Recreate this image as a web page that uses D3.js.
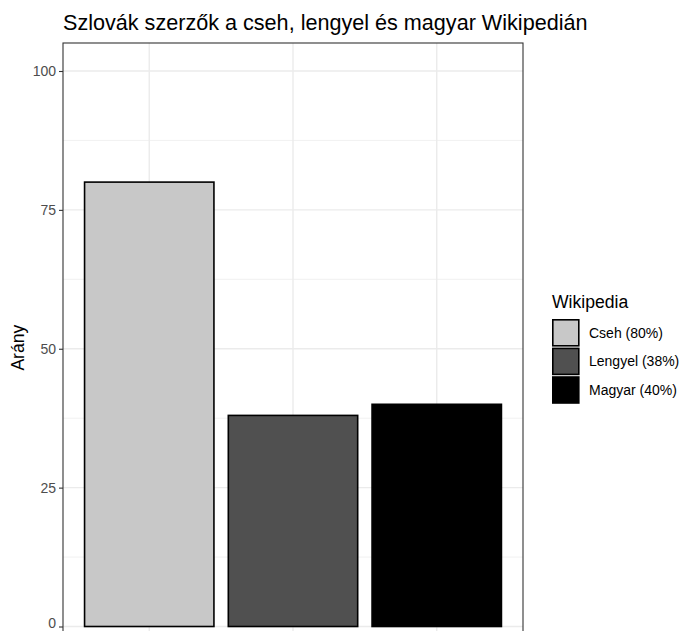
<!DOCTYPE html>
<html><head><meta charset="utf-8">
<script src="https://cdn.jsdelivr.net/npm/d3@7"></script>
<style>body{margin:0;background:#fff;} svg{display:block;font-family:"Liberation Sans",Arial,sans-serif;}</style>
</head><body>
<script>
const categories = ["Cseh", "Lengyel", "Magyar"];
const values = [80, 38, 40];
const legendLabels = ["Cseh (80%)", "Lengyel (38%)", "Magyar (40%)"];
const fills = ["#c8c8c8", "#505050", "#000000"];
const yTicks = [0, 25, 50, 75, 100];
const yMinor = [12.5, 37.5, 62.5, 87.5];

const W = 684, H = 631;
const svg = d3.select("body").append("svg").attr("width", W).attr("height", H);

const pL = 63, pR = 523, pT = 43;
const y = d3.scaleLinear().domain([0, 100]).range([626.5, 626.5 - 100 * 5.555]);
const pB = y(-5);
// discrete x like ggplot: categories at 1..3, limits 0.4..3.6
const xc = d3.scaleLinear().domain([0.4, 3.6]).range([pL, pR]);
const bw = (xc(1.9) - xc(1.0));

const g = svg.append("g");
g.append("rect").attr("x", pL).attr("y", pT).attr("width", pR - pL).attr("height", pB - pT).attr("fill", "#fff");
// minor grid
g.selectAll(".ymin").data(yMinor).enter().append("line")
  .attr("x1", pL).attr("x2", pR).attr("y1", d => y(d)).attr("y2", d => y(d))
  .attr("stroke", "#ebebeb").attr("stroke-width", 0.7);
// major grid
g.selectAll(".ymaj").data(yTicks).enter().append("line")
  .attr("x1", pL).attr("x2", pR).attr("y1", d => y(d)).attr("y2", d => y(d))
  .attr("stroke", "#ebebeb").attr("stroke-width", 1.4);
g.selectAll(".xmaj").data(categories).enter().append("line")
  .attr("x1", (d, i) => xc(i + 1)).attr("x2", (d, i) => xc(i + 1)).attr("y1", pT).attr("y2", pB)
  .attr("stroke", "#ebebeb").attr("stroke-width", 1.4);

// bars
g.selectAll(".bar").data(values).enter().append("rect")
  .attr("x", (d, i) => xc(i + 1) - bw / 2).attr("width", bw)
  .attr("y", d => y(d)).attr("height", d => y(0) - y(d))
  .attr("fill", (d, i) => fills[i]).attr("stroke", "#000").attr("stroke-width", 1.6);

// panel border
g.append("rect").attr("x", pL).attr("y", pT).attr("width", pR - pL).attr("height", pB - pT)
  .attr("fill", "none").attr("stroke", "#333333").attr("stroke-width", 1.1);

// y axis
const yAxis = d3.axisLeft(y).tickValues(yTicks).tickSize(4).tickPadding(3);
const ya = svg.append("g").attr("transform", `translate(${pL},0)`).call(yAxis);
ya.select(".domain").remove();
ya.selectAll(".tick line").attr("stroke", "#333333").attr("stroke-width", 1.1);
ya.selectAll(".tick text").attr("fill", "#4d4d4d").style("font-size", "14px").style("font-family", "Liberation Sans, Arial, sans-serif")
  .attr("y", d => d === 0 ? -3 : 0);

// y title
svg.append("text").attr("transform", `translate(24,${(pT + pB) / 2 - 1}) rotate(-90)`)
  .attr("text-anchor", "middle").style("font-size", "17.6px").attr("fill", "#000").text("Arány");

// title
svg.append("text").attr("x", 63).attr("y", 30).style("font-size", "21.6px").attr("fill", "#000")
  .text("Szlovák szerzők a cseh, lengyel és magyar Wikipedián");

// legend
const lx = 552, ly = 319, ks = 27.6;
svg.append("text").attr("x", lx).attr("y", 308).style("font-size", "17.6px").attr("fill", "#000").text("Wikipedia");
const lg = svg.selectAll(".leg").data(legendLabels).enter().append("g")
  .attr("transform", (d, i) => `translate(${lx},${ly + i * (ks + 1)})`);
lg.append("rect").attr("x", 0.8).attr("y", 0.8).attr("width", ks - 1.6).attr("height", ks - 1.6)
  .attr("fill", (d, i) => fills[i]).attr("stroke", "#000").attr("stroke-width", 1.6);
lg.append("text").attr("x", 37).attr("y", ks / 2).attr("dy", "0.35em").style("font-size", "14px").attr("fill", "#000").text(d => d);
</script>
</body></html>
